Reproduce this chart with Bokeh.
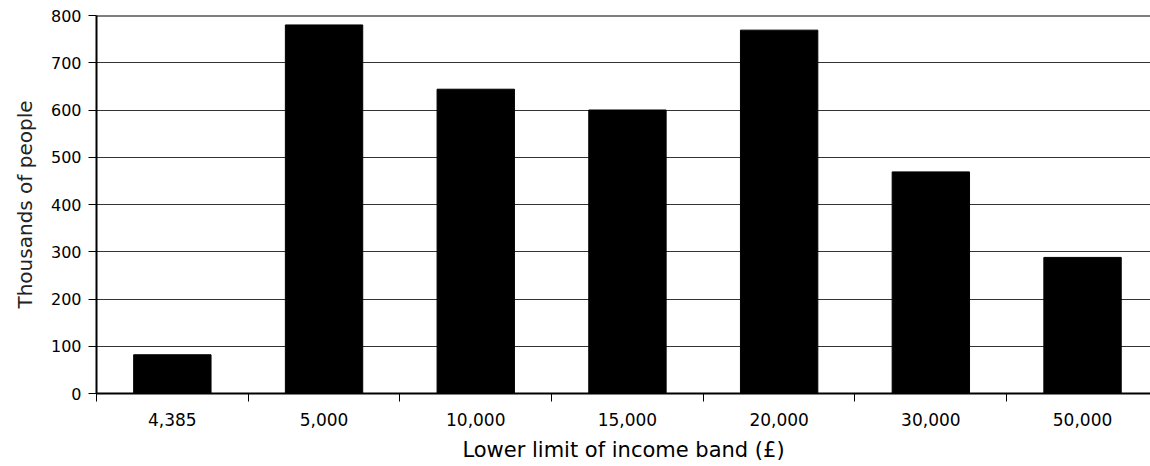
from bokeh.plotting import figure
from bokeh.models import FixedTicker, Range1d, Span
from bokeh.embed import file_html
from bokeh.resources import INLINE

# Income bands (lower limit, £) and number of people in each (thousands)
bands = ["4,385", "5,000", "10,000", "15,000", "20,000", "30,000", "50,000"]
people = [82, 780, 644, 600, 769, 469, 288]
y_ticks = [0, 100, 200, 300, 400, 500, 600, 700, 800]

centers = [i + 0.5 for i in range(len(bands))]
edges = list(range(len(bands) + 1))

FONT = "DejaVu Sans"

p = figure(
    width=1150, height=466,
    output_backend="svg", toolbar_location=None,
    x_range=Range1d(0, 6.948), y_range=Range1d(0, 800),
    min_border_left=96, min_border_right=0,
    min_border_top=15, min_border_bottom=73,
    outline_line_color=None,
)
p.background_fill_color = "white"
p.border_fill_color = "white"

p.vbar(x=centers, top=people, width=0.51, bottom=0,
       fill_color="black", line_color="black", line_width=1)

# x axis: labels centred on each band, short tick marks at band edges
xa = p.xaxis[0]
xa.ticker = FixedTicker(ticks=centers, minor_ticks=edges)
xa.major_label_overrides = {c: b for c, b in zip(centers, bands)}
xa.major_tick_out = 0
xa.major_tick_in = 0
xa.minor_tick_out = 8
xa.minor_tick_in = 0
xa.minor_tick_line_color = "black"
xa.minor_tick_line_width = 1
xa.axis_line_color = "black"
xa.axis_line_width = 2
xa.major_label_text_font = FONT
xa.major_label_text_font_size = "17px"
xa.major_label_text_color = "black"
xa.major_label_standoff = 11
xa.axis_label = "Lower limit of income band (£)"
xa.axis_label_text_font = FONT
xa.axis_label_text_font_size = "21px"
xa.axis_label_text_font_style = "normal"
xa.axis_label_text_color = "black"
xa.axis_label_standoff = 9

# y axis
ya = p.yaxis[0]
ya.ticker = FixedTicker(ticks=y_ticks)
ya.major_tick_out = 8
ya.major_tick_in = 0
ya.minor_tick_out = 0
ya.minor_tick_in = 0
ya.major_tick_line_color = "black"
ya.axis_line_color = "black"
ya.axis_line_width = 2
ya.major_label_text_font = FONT
ya.major_label_text_font_size = "16px"
ya.major_label_text_color = "black"
ya.major_label_standoff = 7
ya.axis_label = "Thousands of people"
ya.axis_label_text_font = FONT
ya.axis_label_text_font_size = "20px"
ya.axis_label_text_font_style = "normal"
ya.axis_label_text_color = "#222222"
ya.axis_label_standoff = 11

p.xgrid.grid_line_color = None
p.ygrid.ticker = FixedTicker(ticks=y_ticks[1:-1])
p.ygrid.grid_line_color = "#333333"
p.ygrid.grid_line_width = 1

# heavy rule along the top of the plotting area
p.add_layout(Span(location=800, dimension="width", line_color="black",
                  line_width=2, level="underlay"))

open("out.html", "w").write(file_html(p, INLINE))
